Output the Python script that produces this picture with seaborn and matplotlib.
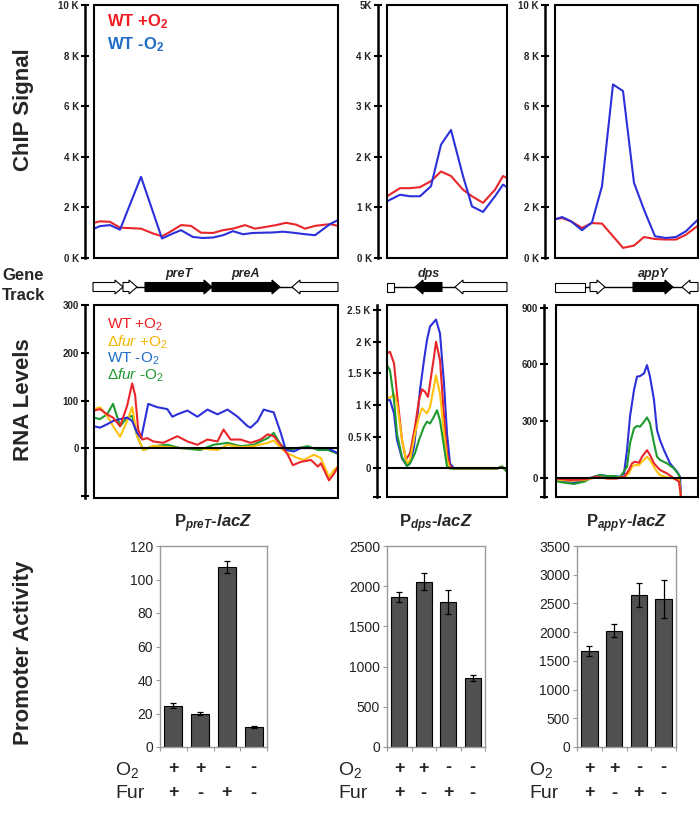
import numpy as np
import pandas as pd
import seaborn as sns
import matplotlib.pyplot as plt
from matplotlib.patches import Rectangle, Polygon

# ---------------- ChIP signal (position along region, signal) ----------------
chip_pret_pos_blue = [0, 6, 16, 26, 47, 68, 79, 87, 99, 109, 119, 129, 139, 149, 159, 169, 179, 189, 199, 209, 221, 236, 244]
chip_pret_blue = [1160, 1260, 1300, 1120, 3210, 770, 970, 1100, 830, 790, 810, 900, 1060, 940, 990, 1000, 1010, 1040, 1000, 950, 900, 1340, 1500]
chip_pret_pos_red = [0, 6, 16, 26, 47, 59, 68, 76, 87, 97, 107, 119, 129, 139, 151, 161, 172, 182, 192, 202, 211, 221, 236, 244]
chip_pret_red = [1390, 1450, 1430, 1200, 1160, 970, 860, 1030, 1300, 1270, 1000, 990, 1100, 1160, 1300, 1160, 1230, 1300, 1390, 1320, 1160, 1270, 1340, 1270]

chip_dps_pos = [0, 13, 23, 33, 44, 54, 64, 76, 85, 96, 108, 116, 120]
chip_dps_blue = [1120, 1250, 1220, 1220, 1420, 2240, 2530, 1620, 1020, 910, 1220, 1450, 1400]
chip_dps_red = [1220, 1380, 1380, 1400, 1520, 1710, 1620, 1350, 1220, 1090, 1350, 1620, 1580]

chip_appy_pos = [0, 7, 16, 27, 37, 47, 58, 68, 79, 89, 100, 111, 121, 131, 143]
chip_appy_blue = [1520, 1620, 1450, 1100, 1410, 2840, 6860, 6600, 2970, 1910, 860, 790, 830, 1060, 1520]
chip_appy_red = [1540, 1580, 1450, 1190, 1380, 1360, 860, 400, 490, 830, 750, 730, 730, 920, 1280]

# ---------------- Gene tracks (start, end, strand, filled, name) ----------------
pret_gene_start = [-1, 29, 51, 118, 198]
pret_gene_end = [29, 43, 118, 186, 244]
pret_gene_strand = [1, 1, 1, 1, -1]
pret_gene_filled = [False, False, True, True, False]
pret_gene_name = ['', '', 'preT', 'preA', '']
pret_backbone = (0, 244)

dps_gene_start = [0, 28, 68]
dps_gene_end = [7, 55, 120]
dps_gene_strand = [0, -1, -1]
dps_gene_filled = [False, True, False]
dps_gene_name = ['', 'dps', '']
dps_backbone = (7, 68)

appy_gene_start = [0, 35, 78, 127]
appy_gene_end = [30, 50, 118, 143]
appy_gene_strand = [0, 1, 1, -1]
appy_gene_filled = [False, False, True, False]
appy_gene_name = ['', '', 'appY', '']
appy_backbone = (30, 127)

# ---------------- RNA levels ----------------
rna_pret_pos_wt_an = [0, 6, 13, 19, 26, 33, 38, 43, 47, 54, 63, 73, 78, 83, 93, 103, 113, 123, 133, 143, 153, 156, 163, 169, 179, 186, 191, 199, 206, 219, 233, 243]
rna_pret_wt_an = [46, 43, 50, 57, 61, 64, 57, 32, 21, 93, 86, 82, 66, 71, 79, 66, 81, 71, 81, 66, 46, 43, 57, 81, 75, 32, -4, -7, 0, 0, 0, -11]
rna_pret_pos_wt_ox = [0, 6, 13, 19, 26, 33, 38, 41, 44, 48, 53, 59, 69, 83, 93, 103, 113, 123, 129, 136, 146, 156, 166, 173, 179, 186, 193, 198, 206, 216, 223, 226, 234, 239, 243]
rna_pret_wt_ox = [79, 82, 71, 64, 46, 89, 136, 111, 39, 18, 21, 14, 11, 25, 14, 7, 18, 14, 39, 18, 18, 11, 18, 29, 25, 7, -14, -36, -29, -25, -39, -32, -68, -54, -39]
rna_pret_pos_fur_ox = [0, 6, 13, 19, 26, 33, 38, 43, 49, 59, 73, 86, 103, 123, 133, 146, 159, 173, 179, 186, 193, 203, 209, 219, 226, 234, 239, 243]
rna_pret_fur_ox = [82, 86, 68, 46, 24, 57, 86, 25, -4, 5, 2, 0, 0, -4, 7, 2, 4, 11, 16, 0, -11, -21, -25, -14, -21, -61, -46, -39]
rna_pret_pos_fur_an = [0, 6, 13, 19, 26, 33, 38, 43, 49, 59, 73, 86, 106, 119, 133, 146, 159, 173, 179, 186, 193, 203, 213, 223, 233, 243]
rna_pret_fur_an = [64, 61, 71, 93, 46, 64, 68, 25, -4, 4, 7, 0, -4, 7, 11, 4, 7, 21, 32, 7, -4, 0, 4, -4, -4, -12]

rna_dps_pos_wt_an = [0, 3, 7, 10, 15, 20, 23, 27, 30, 33, 37, 40, 43, 49, 53, 57, 60, 63, 67, 110, 115, 120]
rna_dps_wt_an = [1080, 1080, 870, 450, 160, 40, 80, 340, 760, 1240, 1710, 2030, 2240, 2350, 2130, 1340, 550, 80, 0, 0, 30, -50]
rna_dps_pos_wt_ox = [0, 3, 7, 10, 15, 19, 23, 28, 32, 35, 38, 41, 43, 47, 49, 53, 57, 60, 63, 67, 110, 115, 120]
rna_dps_wt_ox = [1820, 1840, 1660, 1180, 450, 140, 240, 660, 1080, 1250, 1210, 1130, 1340, 1760, 2000, 1710, 820, 240, 30, 0, 0, 30, -50]
rna_dps_pos_fur_ox = [0, 3, 7, 10, 15, 20, 23, 28, 32, 35, 40, 43, 47, 49, 53, 57, 60, 63, 110, 115, 120]
rna_dps_fur_ox = [1130, 1110, 1180, 1030, 450, 80, 130, 550, 820, 950, 870, 970, 1290, 1470, 1180, 550, 130, 0, 0, 30, -50]
rna_dps_pos_fur_an = [0, 3, 7, 10, 15, 20, 23, 28, 32, 37, 40, 43, 47, 50, 53, 57, 60, 63, 110, 115, 120]
rna_dps_fur_an = [1630, 1550, 1080, 550, 180, 40, 80, 240, 450, 660, 740, 710, 820, 920, 760, 340, 30, 0, 0, 30, -50]

rna_appy_pos_wt_an = [0, 8, 18, 28, 38, 44, 51, 58, 64, 68, 71, 74, 78, 81, 84, 88, 91, 94, 98, 101, 104, 108, 114, 121, 124, 125]
rna_appy_wt_an = [-12, -21, -26, -12, 5, 14, 9, 9, 5, 23, 146, 323, 464, 535, 538, 552, 596, 535, 411, 252, 199, 146, 76, 32, 5, -100]
rna_appy_pos_fur_an = [0, 8, 18, 28, 38, 44, 51, 58, 64, 71, 74, 78, 81, 84, 88, 91, 94, 98, 101, 104, 111, 118, 123, 125]
rna_appy_fur_an = [-18, -26, -33, -21, 5, 14, 9, 9, 2, 58, 182, 261, 274, 270, 296, 319, 288, 182, 111, 94, 76, 49, 14, -100]
rna_appy_pos_wt_ox = [0, 14, 28, 41, 51, 61, 68, 73, 76, 79, 83, 86, 91, 94, 98, 104, 111, 118, 123, 125]
rna_appy_wt_ox = [-4, -12, -9, 5, -4, -4, 5, 41, 76, 85, 79, 111, 146, 120, 76, 41, 23, -4, -21, -100]
rna_appy_pos_fur_ox = [0, 14, 28, 41, 54, 68, 73, 76, 79, 83, 86, 91, 94, 98, 101, 104, 111, 118, 123, 125]
rna_appy_fur_ox = [-9, -16, -12, 2, -4, 2, 23, 58, 67, 67, 85, 111, 94, 58, 32, 14, 2, -4, -12, -100]

# ---------------- Promoter activity ----------------
conditions = ['O2+ Fur+', 'O2+ Fur-', 'O2- Fur+', 'O2- Fur-']
o2_signs = ['+', '+', '-', '-']
fur_signs = ['+', '-', '+', '-']
pret_act = [24.5, 20.0, 107.5, 12.0]
pret_err = [1.5, 0.9, 3.8, 0.6]
dps_act = [1865, 2055, 1805, 855]
dps_err = [65, 108, 145, 35]
appy_act = [1670, 2025, 2645, 2575]
appy_err = [87, 116, 209, 335]

# ---------------- style ----------------
sns.set_style("white")
plt.rcParams['font.family'] = ['Liberation Sans', 'DejaVu Sans']
plt.rcParams['mathtext.fontset'] = 'custom'
plt.rcParams['mathtext.rm'] = 'Liberation Sans'
plt.rcParams['mathtext.it'] = 'Liberation Sans:italic'
plt.rcParams['mathtext.bf'] = 'Liberation Sans:bold'
plt.rcParams['mathtext.bfit'] = 'Liberation Sans:italic:bold'

RED, BLUE, ORANGE, GREEN = '#e8262a', '#2b30d8', '#ffc20e', '#1e9a30'
RED_T, BLUE_T, ORANGE_T, GREEN_T = '#ee1d23', '#1f6dc6', '#f5b400', '#1e9a30'

W, H = 700, 815
fig = plt.figure(figsize=(7, 8.15), dpi=100)


def rect(x0, y0, x1, y1):
    return [x0 / W, 1 - y1 / H, (x1 - x0) / W, (y1 - y0) / H]


def ftext(px, py, s, **kw):
    fig.text(px / W, 1 - py / H, s, **kw)


def framed(r, xmax, ylim, ticks, labels, off):
    ax = fig.add_axes(r)
    for s in ['top', 'right', 'bottom']:
        ax.spines[s].set_visible(False)
    ax.spines['left'].set_position(('outward', off * 0.72))
    ax.spines['left'].set_linewidth(1.8)
    ax.spines['left'].set_color('black')
    ax.add_patch(Rectangle((0, 0), 1, 1, transform=ax.transAxes, fill=False,
                           lw=1.5, ec='black', clip_on=False, zorder=6))
    ax.set_xlim(0, xmax)
    ax.set_ylim(*ylim)
    ax.set_xticks([])
    ax.set_yticks(ticks)
    ax.set_yticklabels(labels, fontweight='bold')
    ax.tick_params(axis='y', left=True, direction='inout', length=6, width=1.5,
                   color='black', pad=1.5, labelsize=7)
    return ax


def line(ax, x, y, c):
    sns.lineplot(x=x, y=y, ax=ax, color=c, lw=1.5, estimator=None, sort=False)
    ax.set_xlabel('')
    ax.set_ylabel('')


def gene_track(r, xmax, starts, ends, strands, filled, names, backbone):
    ax = fig.add_axes(r)
    ax.set_xlim(0, xmax)
    ax.set_ylim(-15, 25)
    ax.axis('off')
    ax.plot(backbone, [0, 0], color='black', lw=1, zorder=1)
    b, h, hl = 4.5, 7.0, 8.0
    for x0, x1, st, f, nm in zip(starts, ends, strands, filled, names):
        L = min(hl, (x1 - x0) * 0.6)
        if st > 0:
            pts = [(x0, -b), (x1 - L, -b), (x1 - L, -h), (x1, 0), (x1 - L, h), (x1 - L, b), (x0, b)]
        elif st < 0:
            pts = [(x1, -b), (x0 + L, -b), (x0 + L, -h), (x0, 0), (x0 + L, h), (x0 + L, b), (x1, b)]
        else:
            pts = [(x0, -b), (x1, -b), (x1, b), (x0, b)]
        ax.add_patch(Polygon(pts, closed=True, fc='black' if f else 'white', ec='black',
                             lw=0.8, zorder=2, clip_on=False))
        if nm:
            ax.text((x0 + x1) / 2, 13, nm, ha='center', va='center', fontsize=9,
                    fontweight='bold', style='italic')


def bar_panel(r, vals, errs, ymax, step, title):
    ax = fig.add_axes(r)
    df = pd.DataFrame({'cond': conditions, 'act': vals})
    sns.barplot(data=df, x='cond', y='act', ax=ax, color='#505050', edgecolor='black',
                linewidth=0.8, width=0.67, errorbar=None, saturation=1)
    ax.errorbar(range(4), vals, yerr=errs, fmt='none', ecolor='black', elinewidth=0.9,
                capsize=2.5, capthick=0.9, zorder=5)
    ax.set_xlim(-0.5, 3.5)
    ax.set_ylim(0, ymax)
    ax.set_yticks(np.arange(0, ymax + 1, step))
    ax.set_xticks([-0.5, 0.5, 1.5, 2.5, 3.5])
    ax.set_xticklabels([])
    for s in ax.spines.values():
        s.set_visible(True)
        s.set_color('#9a9a9a')
        s.set_linewidth(1)
    ax.tick_params(axis='both', direction='out', length=3, width=0.8, color='#9a9a9a',
                   labelsize=10, labelcolor='#222222', pad=2, left=True, bottom=True)
    ax.set_xlabel('')
    ax.set_ylabel('')
    ax.text(0.5, 1 + 22 / 201, title, transform=ax.transAxes, ha='center', va='center',
            fontsize=12, fontweight='bold')
    tr = ax.get_xaxis_transform()
    for i in range(4):
        ax.text(i, -21 / 201, o2_signs[i], transform=tr, ha='center', va='center',
                fontsize=13, fontweight='bold')
        ax.text(i, -46 / 201, fur_signs[i], transform=tr, ha='center', va='center',
                fontsize=13, fontweight='bold')
    return ax


# ---------- ChIP row ----------
k10 = ([0, 2000, 4000, 6000, 8000, 10000], ['0 K', '2 K', '4 K', '6 K', '8 K', '10 K'])
ax = framed(rect(94, 5, 338, 258), 244, (0, 10000), *k10, off=9)
line(ax, chip_pret_pos_red, chip_pret_red, RED)
line(ax, chip_pret_pos_blue, chip_pret_blue, BLUE)
ax.set_xlim(0, 244)

ax = framed(rect(387, 5, 507, 258), 120, (0, 5000), [0, 1000, 2000, 3000, 4000, 5000],
            ['0 K', '1 K', '2 K', '3 K', '4 K', '5K'], off=9)
line(ax, chip_dps_pos, chip_dps_red, RED)
line(ax, chip_dps_pos, chip_dps_blue, BLUE)
ax.set_xlim(0, 120)

ax = framed(rect(555, 5, 698, 258), 143, (0, 10000), *k10, off=10)
line(ax, chip_appy_pos, chip_appy_red, RED)
line(ax, chip_appy_pos, chip_appy_blue, BLUE)
ax.set_xlim(0, 143)

ftext(107, 22, r'WT +O$_\mathbf{2}$', color=RED_T, fontsize=12, fontweight='bold', va='center')
ftext(107, 45, r'WT -O$_\mathbf{2}$', color=BLUE_T, fontsize=12, fontweight='bold', va='center')

# ---------- gene tracks ----------
gene_track(rect(94, 262, 338, 302), 244, pret_gene_start, pret_gene_end, pret_gene_strand,
           pret_gene_filled, pret_gene_name, pret_backbone)
gene_track(rect(387, 262, 507, 302), 120, dps_gene_start, dps_gene_end, dps_gene_strand,
           dps_gene_filled, dps_gene_name, dps_backbone)
gene_track(rect(555, 262, 698, 302), 143, appy_gene_start, appy_gene_end, appy_gene_strand,
           appy_gene_filled, appy_gene_name, appy_backbone)

# ---------- RNA row ----------
ax = framed(rect(94, 305, 338, 498), 243, (-105, 301), [-100, 0, 100, 200, 300],
            ['', '0', '100', '200', '300'], off=9)
line(ax, rna_pret_pos_fur_an, rna_pret_fur_an, GREEN)
line(ax, rna_pret_pos_fur_ox, rna_pret_fur_ox, ORANGE)
line(ax, rna_pret_pos_wt_an, rna_pret_wt_an, BLUE)
line(ax, rna_pret_pos_wt_ox, rna_pret_wt_ox, RED)
ax.axhline(0, color='black', lw=1.5, zorder=5)
ax.set_xlim(0, 243)

ax = framed(rect(387, 305, 507, 497), 120, (-450, 2580), [-450, 0, 500, 1000, 1500, 2000, 2500],
            ['', '0', '0.5 K', '1 K', '1.5 K', '2 K', '2.5 K'], off=10)
line(ax, rna_dps_pos_wt_an, rna_dps_wt_an, BLUE)
line(ax, rna_dps_pos_wt_ox, rna_dps_wt_ox, RED)
line(ax, rna_dps_pos_fur_ox, rna_dps_fur_ox, ORANGE)
line(ax, rna_dps_pos_fur_an, rna_dps_fur_an, GREEN)
ax.axhline(0, color='black', lw=1.5, zorder=5)
ax.set_xlim(0, 120)

ax = framed(rect(556, 305, 698, 497), 142, (-102, 914), [-100, 0, 300, 600, 900],
            ['', '0', '300', '600', '900'], off=12)
line(ax, rna_appy_pos_wt_an, rna_appy_wt_an, BLUE)
line(ax, rna_appy_pos_fur_an, rna_appy_fur_an, GREEN)
line(ax, rna_appy_pos_fur_ox, rna_appy_fur_ox, ORANGE)
line(ax, rna_appy_pos_wt_ox, rna_appy_wt_ox, RED)
ax.axhline(0, color='black', lw=1.5, zorder=5)
ax.set_xlim(0, 142)

ftext(107, 325, r'WT +O$_2$', color=RED_T, fontsize=11, va='center')
ftext(107, 342, r'$\Delta\mathit{fur}$ +O$_2$', color=ORANGE_T, fontsize=11, va='center')
ftext(107, 359, r'WT -O$_2$', color=BLUE_T, fontsize=11, va='center')
ftext(107, 375, r'$\Delta\mathit{fur}$ -O$_2$', color=GREEN_T, fontsize=11, va='center')

# ---------- promoter activity ----------
bar_panel(rect(160, 546, 267, 747), pret_act, pret_err, 120, 20,
          r'P$_{\mathbfit{preT}}$-$\mathbfit{lacZ}$')
bar_panel(rect(387, 546, 485, 747), dps_act, dps_err, 2500, 500,
          r'P$_{\mathbfit{dps}}$-$\mathbfit{lacZ}$')
bar_panel(rect(577, 546, 676, 747), appy_act, appy_err, 3500, 500,
          r'P$_{\mathbfit{appY}}$-$\mathbfit{lacZ}$')

for px in (115, 338, 529):
    ftext(px, 770, r'O$_2$', fontsize=14, va='center')
    ftext(px, 793, 'Fur', fontsize=14, va='center')

# ---------- row labels ----------
ftext(24, 110, 'ChIP Signal', rotation=90, ha='center', va='center', fontsize=16, fontweight='bold')
ftext(2, 276, 'Gene', fontsize=12, fontweight='bold', va='center')
ftext(2, 295, 'Track', fontsize=12, fontweight='bold', va='center')
ftext(24, 400, 'RNA Levels', rotation=90, ha='center', va='center', fontsize=16, fontweight='bold')
ftext(24, 653, 'Promoter Activity', rotation=90, ha='center', va='center', fontsize=16, fontweight='bold')

fig.savefig('out.png', dpi=100)
